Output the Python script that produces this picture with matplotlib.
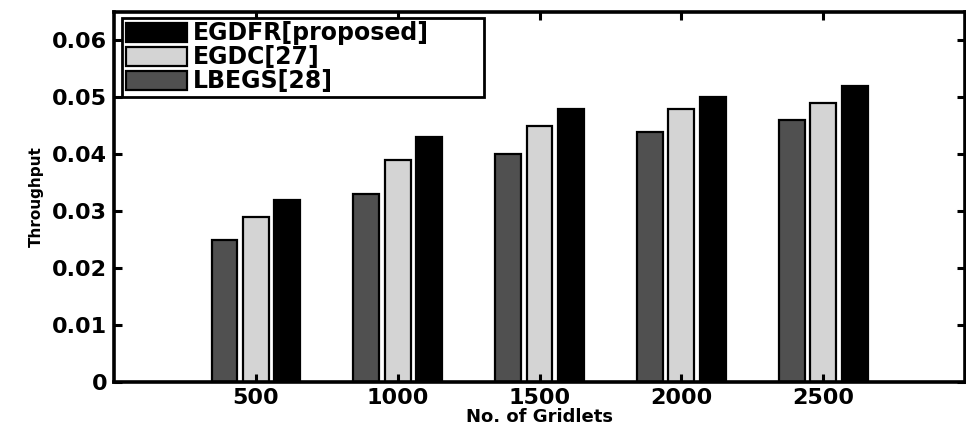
import matplotlib
matplotlib.use("Agg")
import matplotlib.pyplot as plt
import numpy as np

categories = ["500", "1000", "1500", "2000", "2500"]
lbegs = [0.025, 0.033, 0.040, 0.044, 0.046]
egdc = [0.029, 0.039, 0.045, 0.048, 0.049]
egdfr = [0.032, 0.043, 0.048, 0.050, 0.052]
yticks = [0, 0.01, 0.02, 0.03, 0.04, 0.05, 0.06]
ytick_labels = ["0", "0.01", "0.02", "0.03", "0.04", "0.05", "0.06"]

plt.rcParams['font.family'] = ['DejaVu Sans']
plt.rcParams['font.weight'] = 'bold'

fig = plt.figure(figsize=(9.66, 4.25), dpi=100)
ax = fig.add_axes([0.118, 0.1012, 0.881, 0.8706])

x = np.arange(1, len(categories) + 1)
off = 0.2215
w = 0.182
b1 = ax.bar(x - off, lbegs, w, color='#505050', edgecolor='black', linewidth=1.6, label='LBEGS[28]')
b2 = ax.bar(x, egdc, w, color='#d4d4d4', edgecolor='black', linewidth=1.6, label='EGDC[27]')
b3 = ax.bar(x + off, egdfr, w, color='black', edgecolor='black', linewidth=1.6, label='EGDFR[proposed]')

ax.set_xlim(0, 6)
ax.set_ylim(0, 0.065)
ax.set_xticks(x)
ax.set_xticklabels(categories)
ax.set_yticks(yticks)
ax.set_yticklabels(ytick_labels)
ax.tick_params(direction='in', length=6, width=2.2, top=True, right=True, labelsize=16, pad=5)
ax.tick_params(axis='x', pad=4)
for lab in ax.get_xticklabels() + ax.get_yticklabels():
    lab.set_fontweight('bold')
for s in ax.spines.values():
    s.set_linewidth(2.6)

ax.set_xlabel('No. of Gridlets', fontsize=13, fontweight='bold', labelpad=0)
ax.set_ylabel('Throughput', fontsize=11, fontweight='bold', labelpad=6)

leg = ax.legend([b3, b2, b1], ['EGDFR[proposed]', 'EGDC[27]', 'LBEGS[28]'],
                loc='upper left', bbox_to_anchor=(0.0094, 0.5, 0.4254, 0.484),
                mode='expand', borderaxespad=0,
                prop={'size': 17, 'weight': 'bold'}, handlelength=2.6, handleheight=0.85,
                handletextpad=0.25, labelspacing=0.0, borderpad=0.15, fancybox=False,
                framealpha=1, edgecolor='black')
leg.get_frame().set_linewidth(2.0)

fig.savefig('out.png', dpi=100)
